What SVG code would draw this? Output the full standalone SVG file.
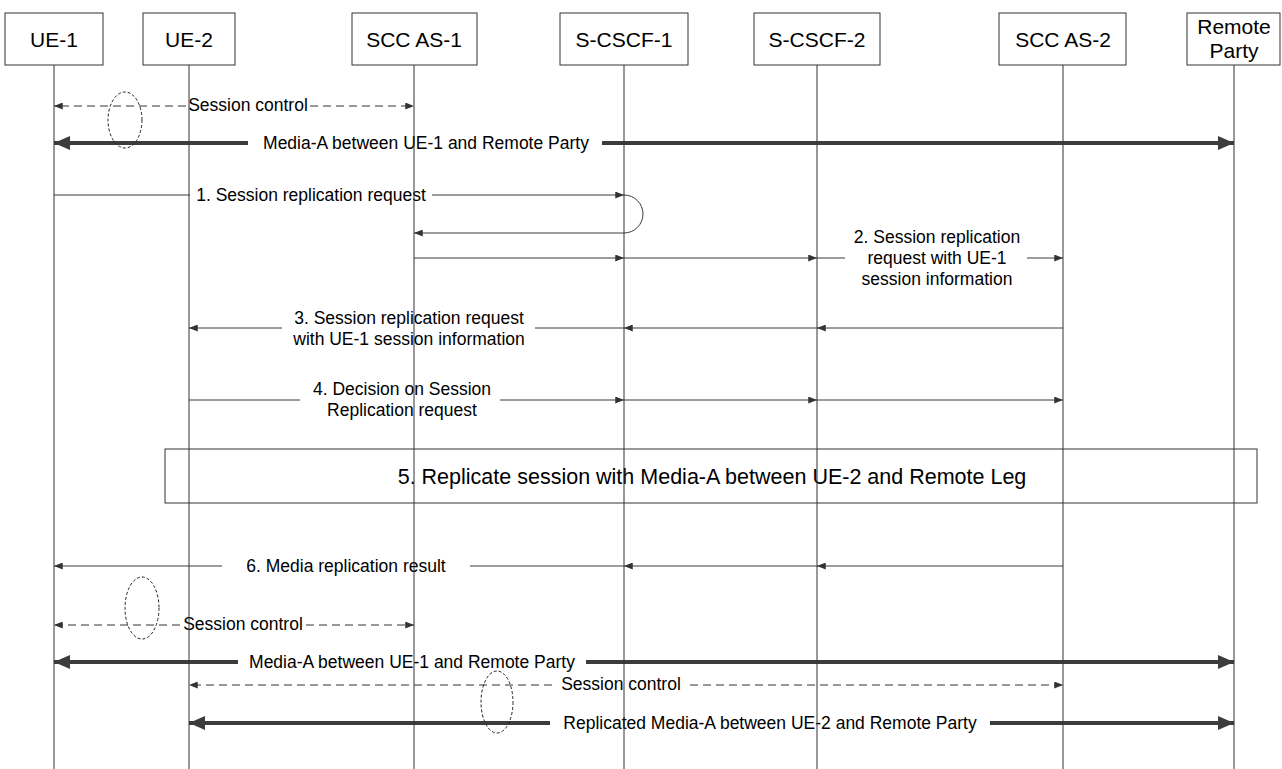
<svg xmlns="http://www.w3.org/2000/svg" width="1282" height="769" viewBox="0 0 1282 769">
<style>
text{font-family:"Liberation Sans",Arial,sans-serif;fill:#000;}
.hd{font-size:21px;text-anchor:middle;}
.lb{font-size:17.5px;text-anchor:middle;}
.big{font-size:21.5px;text-anchor:middle;}
.box{fill:#fff;stroke:#333;stroke-width:1;}
.life{stroke:#333;stroke-width:1;fill:none;}
.msg{stroke:#3a3a3a;stroke-width:1;fill:none;}
.ma{marker-end:url(#ah);}
.dash{stroke:#333;stroke-width:1;stroke-dasharray:8,5;fill:none;}
.thick{stroke:#3c3c3c;stroke-width:4;fill:none;}
.mb{marker-end:url(#bh);}
.ell{fill:none;stroke:#222;stroke-width:1;stroke-dasharray:3,2;}
</style>
<defs>
<marker id="ah" viewBox="0 0 10 8" refX="10" refY="4" markerWidth="10" markerHeight="7" orient="auto" markerUnits="userSpaceOnUse"><path d="M0,0 L10,4 L0,8 z" fill="#333"/></marker>
<marker id="bh" viewBox="0 0 16 14" refX="16" refY="7" markerWidth="16" markerHeight="14" orient="auto" markerUnits="userSpaceOnUse"><path d="M0,0 L16,7 L0,14 z" fill="#3c3c3c"/></marker>
</defs>
<rect width="1282" height="769" fill="#fff"/>

<g id="ue1"><rect class="box" x="5" y="13" width="98" height="52"/><text class="hd" x="54" y="47">UE-1</text></g>
<g id="ue2"><rect class="box" x="143" y="13" width="92" height="52"/><text class="hd" x="189" y="47">UE-2</text></g>
<g id="sccas1"><rect class="box" x="352" y="13" width="125" height="52"/><text class="hd" x="414" y="47">SCC AS-1</text></g>
<g id="scscf1"><rect class="box" x="560" y="13" width="128" height="52"/><text class="hd" x="624" y="47">S-CSCF-1</text></g>
<g id="scscf2"><rect class="box" x="754" y="13" width="126" height="52"/><text class="hd" x="817" y="47">S-CSCF-2</text></g>
<g id="sccas2"><rect class="box" x="999" y="13" width="127" height="52"/><text class="hd" x="1063" y="47">SCC AS-2</text></g>
<g id="remote"><rect class="box" x="1187" y="13" width="93" height="52"/><text class="hd" x="1234" y="34">Remote</text><text class="hd" x="1234" y="58">Party</text></g>

<g id="step5"><rect x="165" y="449" width="1092" height="54" fill="none" stroke="#333" stroke-width="1"/><text class="big" x="712" y="484">5. Replicate session with Media-A between UE-2 and Remote Leg</text></g>

<g id="connectors">
<line class="dash ma" x1="186" y1="106" x2="54" y2="106"/>
<line class="dash ma" x1="310" y1="106" x2="414" y2="106"/>
<text class="lb" x="248" y="111">Session control</text>
<line class="thick mb" x1="248" y1="143" x2="54" y2="143"/>
<line class="thick mb" x1="602" y1="143" x2="1234" y2="143"/>
<text class="lb" x="426" y="149">Media-A between UE-1 and Remote Party</text>
<line class="msg" x1="54" y1="195" x2="190" y2="195"/>
<line class="msg ma" x1="432" y1="195" x2="624" y2="195"/>
<text class="lb" x="311" y="201">1. Session replication request</text>
<path class="msg" d="M624,195 A19,19 0 0 1 624,233"/>
<line class="msg ma" x1="624" y1="233" x2="414" y2="233"/>
<line class="msg ma" x1="414" y1="258" x2="624" y2="258"/>
<line class="msg ma" x1="624" y1="258" x2="817" y2="258"/>
<line class="msg" x1="817" y1="258" x2="845" y2="258"/>
<line class="msg ma" x1="1027" y1="258" x2="1063" y2="258"/>
<text class="lb" x="937" y="243">2. Session replication</text>
<text class="lb" x="937" y="264">request with UE-1</text>
<text class="lb" x="937" y="285">session information</text>
<line class="msg ma" x1="1063" y1="328" x2="817" y2="328"/>
<line class="msg ma" x1="817" y1="328" x2="624" y2="328"/>
<line class="msg" x1="624" y1="328" x2="535" y2="328"/>
<line class="msg ma" x1="282" y1="328" x2="189" y2="328"/>
<text class="lb" x="409" y="324">3. Session replication request</text>
<text class="lb" x="409" y="345">with UE-1 session information</text>
<line class="msg" x1="189" y1="400" x2="300" y2="400"/>
<line class="msg ma" x1="500" y1="400" x2="624" y2="400"/>
<line class="msg ma" x1="624" y1="400" x2="817" y2="400"/>
<line class="msg ma" x1="817" y1="400" x2="1063" y2="400"/>
<text class="lb" x="402" y="395">4. Decision on Session</text>
<text class="lb" x="402" y="416">Replication request</text>
<line class="msg ma" x1="1063" y1="566" x2="817" y2="566"/>
<line class="msg ma" x1="817" y1="566" x2="624" y2="566"/>
<line class="msg" x1="624" y1="566" x2="470" y2="566"/>
<line class="msg ma" x1="222" y1="566" x2="54" y2="566"/>
<text class="lb" x="346" y="572">6. Media replication result</text>
<line class="dash ma" x1="180" y1="625" x2="54" y2="625"/>
<line class="dash ma" x1="306" y1="625" x2="414" y2="625"/>
<text class="lb" x="243" y="630">Session control</text>
<line class="thick mb" x1="238" y1="662" x2="54" y2="662"/>
<line class="thick mb" x1="586" y1="662" x2="1234" y2="662"/>
<text class="lb" x="412" y="668">Media-A between UE-1 and Remote Party</text>
<line class="dash ma" x1="552" y1="685" x2="189" y2="685"/>
<line class="dash ma" x1="690" y1="685" x2="1063" y2="685"/>
<text class="lb" x="621" y="690">Session control</text>
<line class="thick mb" x1="550" y1="723" x2="189" y2="723"/>
<line class="thick mb" x1="990" y1="723" x2="1234" y2="723"/>
<text class="lb" x="770" y="729">Replicated Media-A between UE-2 and Remote Party</text>
<ellipse class="ell" cx="125" cy="120" rx="17" ry="28"/>
<ellipse class="ell" cx="142" cy="608" rx="17" ry="31"/>
<ellipse class="ell" cx="497" cy="702" rx="16" ry="31"/>
<line class="life" x1="54" y1="65" x2="54" y2="769" stroke-width="1.3"/>
<line class="life" x1="189" y1="65" x2="189" y2="769"/>
<line class="life" x1="414" y1="65" x2="414" y2="769"/>
<line class="life" x1="624" y1="65" x2="624" y2="769"/>
<line class="life" x1="817" y1="65" x2="817" y2="769"/>
<line class="life" x1="1063" y1="65" x2="1063" y2="769"/>
<line class="life" x1="1234" y1="65" x2="1234" y2="769"/>
</g>
</svg>
